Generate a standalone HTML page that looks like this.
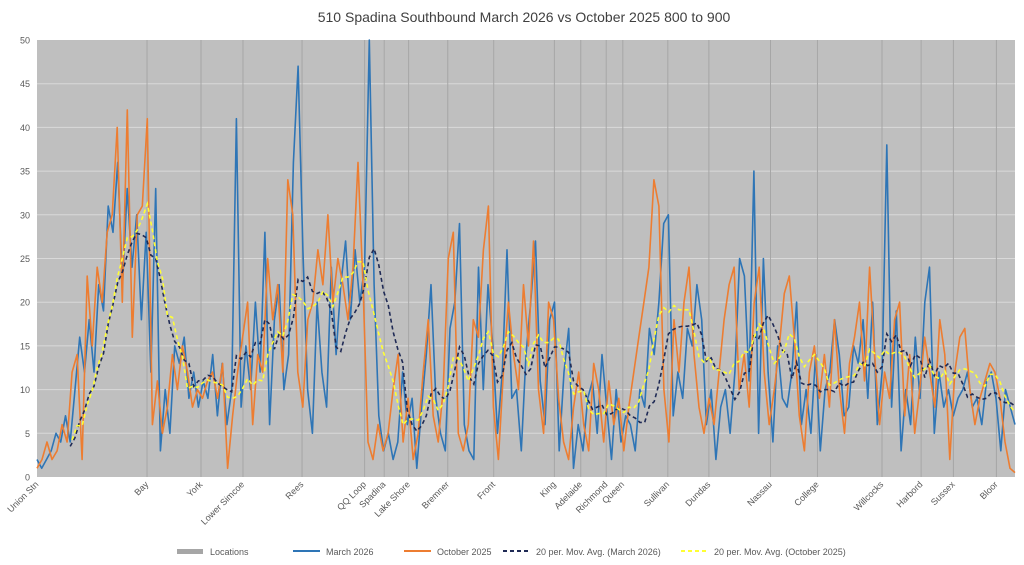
<!DOCTYPE html>
<html><head><meta charset="utf-8"><style>
body{margin:0;background:#fff;font-family:"Liberation Sans",sans-serif;}
svg{display:block}
</style></head><body>
<svg id="chart" width="1024" height="565">
<rect x="0" y="0" width="1024" height="565" fill="#fff"/>
<text x="524" y="22" text-anchor="middle" font-size="14" fill="#404040">510 Spadina Southbound March 2026 vs October 2025 800 to 900</text>
<rect x="37" y="40" width="978" height="437" fill="#bfbfbf"/>
<g id="grid"></g><g id="locs"></g><g id="series"></g><g id="axes"></g>
<g id="legend" font-size="9" fill="#595959">
<rect x="177" y="549" width="26" height="5" fill="#a6a6a6"/>
<text x="210" y="555">Locations</text>
<line x1="293" y1="551" x2="320" y2="551" stroke="#2e75b6" stroke-width="2"/>
<text x="326" y="555">March 2026</text>
<line x1="404" y1="551" x2="431" y2="551" stroke="#ed7d31" stroke-width="2"/>
<text x="437" y="555">October 2025</text>
<line x1="503" y1="551" x2="530" y2="551" stroke="#1f2a55" stroke-width="2" stroke-dasharray="4,3"/>
<text x="536" y="555">20 per. Mov. Avg. (March 2026)</text>
<line x1="681" y1="551" x2="708" y2="551" stroke="#ffff33" stroke-width="2" stroke-dasharray="4,3"/>
<text x="714" y="555">20 per. Mov. Avg. (October 2025)</text>
</g>
</svg>
<script>
const yTicks=[0,5,10,15,20,25,30,35,40,45,50];
const locNames=["Union Stn","Bay","York","Lower Simcoe","Rees","QQ Loop","Spadina","Lake Shore","Bremner","Front","King","Adelaide","Richmond","Queen","Sullivan","Dundas","Nassau","College","Willcocks","Harbord","Sussex","Bloor"];
const locPct=[0,11.25,16.77,21.06,27.1,33.5,35.5,38.0,42.0,46.7,52.9,55.6,58.2,59.9,64.5,68.7,75.0,79.8,86.4,90.4,93.7,98.1];
const march=[2,1,2,3,5,4,7,4,10,16,12,18,12,22,19,31,28,36,22,33,24,30,18,28,12,33,3,10,5,15,13,16,9,12,8,11,9,14,7,13,6,10,41,8,15,10,20,12,28,6,18,22,10,14,36,47,26,10,5,20,12,8,24,14,22,27,18,26,20,24,50,22,7,3,5,2,4,12,6,9,1,8,14,22,9,5,3,17,20,29,6,3,2,24,10,22,15,5,12,26,9,10,3,14,20,27,11,6,18,20,3,12,17,1,6,3,9,11,5,14,8,2,10,4,7,6,3,10,8,17,14,20,29,30,7,12,9,17,15,22,18,6,10,2,8,10,5,12,25,23,11,35,5,25,12,4,15,9,8,12,20,6,10,5,14,3,10,12,18,14,7,8,15,13,18,9,20,6,12,38,8,19,3,10,6,16,9,20,24,5,12,8,10,7,9,10,12,8,9,6,11,12,9,3,10,8,6];
const october=[1,2,4,2,3,6,4,12,14,2,23,15,24,20,28,30,40,20,42,16,30,31,41,6,11,5,8,14,10,15,12,8,10,9,11,12,9,13,1,7,12,16,20,6,14,12,25,18,22,12,34,30,12,8,18,20,26,22,30,20,25,22,18,24,36,22,4,2,6,3,5,10,14,4,9,2,5,12,18,7,4,10,25,28,5,3,6,18,16,26,31,8,2,12,20,14,10,22,15,27,10,5,20,18,9,4,2,8,12,6,3,13,10,4,11,6,9,3,8,12,16,20,24,34,31,10,4,18,12,20,24,14,8,5,9,6,12,18,22,24,10,14,8,20,24,12,6,10,15,21,23,16,7,3,12,15,9,14,8,18,10,5,13,16,20,11,24,14,6,12,9,18,20,7,14,5,10,16,12,8,18,14,2,12,16,17,10,6,9,11,13,12,9,4,1,0.5];
const maWindow=8;
const ns="http://www.w3.org/2000/svg";
const X0=37,X1=1015,Y0=477,Y1=40;
function xp(p){return X0+p/100*(X1-X0);}
function xi(i,len){return X0+i*(X1-X0)/(len-1);}
function ys(v){return Y0-(v/50)*(Y0-Y1);}
function mk(tag,attrs,parent){const e=document.createElementNS(ns,tag);for(const k in attrs)e.setAttribute(k,attrs[k]);parent.appendChild(e);return e;}
const grid=document.getElementById('grid'),axes=document.getElementById('axes'),locs=document.getElementById('locs'),series=document.getElementById('series');
yTicks.forEach(t=>{
  if(t>0&&t<50){const l=mk('line',{x1:X0,x2:X1,y1:ys(t),y2:ys(t),stroke:'#d9d9d9','stroke-width':1},grid);
  
  }
  const tx=mk('text',{x:30,y:ys(t)+3.5,'text-anchor':'end','font-size':9,fill:'#595959'},axes);
  tx.textContent=t;
  
  
});
locNames.forEach((n,k)=>{
  const x=xp(locPct[k]);
  if(k>0){const l=mk('line',{x1:x,x2:x,y1:Y1,y2:Y0,stroke:'#a6a6a6','stroke-width':1},locs);
  
  }
  const tx=mk('text',{transform:`translate(${x+2},${Y0+8}) rotate(-45)`,'text-anchor':'end','font-size':9,fill:'#595959'},axes);
  tx.textContent=n;
  
  
});
function path(arr){let d='',first=true;arr.forEach((v,i)=>{if(v==null)return;d+=(first?'M':'L')+xi(i,arr.length).toFixed(1)+','+ys(v).toFixed(1);first=false;});return d;}
function ma(arr){const out=[];for(let i=0;i<arr.length;i++){if(i<maWindow-1){out.push(null);continue;}let s=0;for(let j=i-maWindow+1;j<=i;j++)s+=arr[j];out.push(s/maWindow);}return out;}
let p=mk('path',{d:path(march),fill:'none',stroke:'#2e75b6','stroke-width':1.6,'stroke-linejoin':'round'},series);


p=mk('path',{d:path(october),fill:'none',stroke:'#ed7d31','stroke-width':1.6,'stroke-linejoin':'round'},series);


p=mk('path',{d:path(ma(march)),fill:'none',stroke:'#1f2a55','stroke-width':1.6,'stroke-dasharray':'4,3'},series);


p=mk('path',{d:path(ma(october)),fill:'none',stroke:'#ffff33','stroke-width':1.6,'stroke-dasharray':'4,3'},series);


</script>
</body></html>
